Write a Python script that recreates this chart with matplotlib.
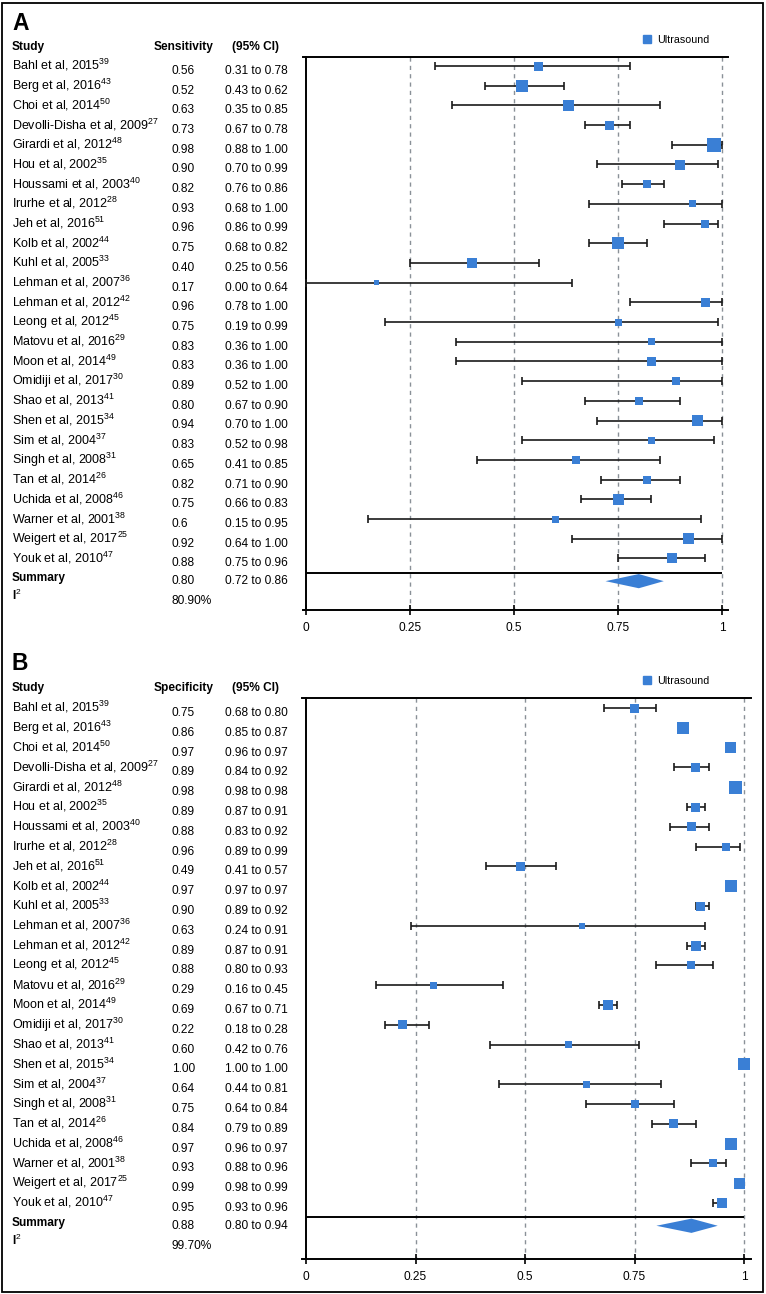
import matplotlib
matplotlib.use('Agg')
import matplotlib.pyplot as plt
from matplotlib.transforms import blended_transform_factory
from matplotlib.lines import Line2D
from matplotlib.patches import Rectangle

plt.rcParams['font.family'] = ['Liberation Sans', 'DejaVu Sans']
plt.rcParams['mathtext.fontset'] = 'custom'
plt.rcParams['mathtext.rm'] = 'Liberation Sans'
plt.rcParams['mathtext.bf'] = 'Liberation Sans:bold'
plt.rcParams['mathtext.default'] = 'regular'

# study names and reference numbers (same order in both panels)
studies = ['Bahl et al, 2015', 'Berg et al, 2016', 'Choi et al, 2014', 'Devolli-Disha et al, 2009',
           'Girardi et al, 2012', 'Hou et al, 2002', 'Houssami et al, 2003', 'Irurhe et al, 2012',
           'Jeh et al, 2016', 'Kolb et al, 2002', 'Kuhl et al, 2005', 'Lehman et al, 2007',
           'Lehman et al, 2012', 'Leong et al, 2012', 'Matovu et al, 2016', 'Moon et al, 2014',
           'Omidiji et al, 2017', 'Shao et al, 2013', 'Shen et al, 2015', 'Sim et al, 2004',
           'Singh et al, 2008', 'Tan et al, 2014', 'Uchida et al, 2008', 'Warner et al, 2001',
           'Weigert et al, 2017', 'Youk et al, 2010']
refs = [39, 43, 50, 27, 48, 35, 40, 28, 51, 44, 33, 36, 42, 45, 29, 49, 30, 41, 34, 37, 31, 26, 46, 38, 25, 47]

# panel A - sensitivity
sens = [0.56, 0.52, 0.63, 0.73, 0.98, 0.90, 0.82, 0.93, 0.96, 0.75, 0.40, 0.17, 0.96,
        0.75, 0.83, 0.83, 0.89, 0.80, 0.94, 0.83, 0.65, 0.82, 0.75, 0.60, 0.92, 0.88]
sens_lo = [0.31, 0.43, 0.35, 0.67, 0.88, 0.70, 0.76, 0.68, 0.86, 0.68, 0.25, 0.00, 0.78,
           0.19, 0.36, 0.36, 0.52, 0.67, 0.70, 0.52, 0.41, 0.71, 0.66, 0.15, 0.64, 0.75]
sens_hi = [0.78, 0.62, 0.85, 0.78, 1.00, 0.99, 0.86, 1.00, 0.99, 0.82, 0.56, 0.64, 1.00,
           0.99, 1.00, 1.00, 1.00, 0.90, 1.00, 0.98, 0.85, 0.90, 0.83, 0.95, 1.00, 0.96]
sens_summary = [0.80, 0.72, 0.86]
sens_i2 = '80.90%'

# panel B - specificity
spec = [0.75, 0.86, 0.97, 0.89, 0.98, 0.89, 0.88, 0.96, 0.49, 0.97, 0.90, 0.63, 0.89,
        0.88, 0.29, 0.69, 0.22, 0.60, 1.00, 0.64, 0.75, 0.84, 0.97, 0.93, 0.99, 0.95]
spec_lo = [0.68, 0.85, 0.96, 0.84, 0.98, 0.87, 0.83, 0.89, 0.41, 0.97, 0.89, 0.24, 0.87,
           0.80, 0.16, 0.67, 0.18, 0.42, 1.00, 0.44, 0.64, 0.79, 0.96, 0.88, 0.98, 0.93]
spec_hi = [0.80, 0.87, 0.97, 0.92, 0.98, 0.91, 0.92, 0.99, 0.57, 0.97, 0.92, 0.91, 0.91,
           0.93, 0.45, 0.71, 0.28, 0.76, 1.00, 0.81, 0.84, 0.89, 0.97, 0.96, 0.99, 0.96]
spec_summary = [0.88, 0.80, 0.94]
spec_i2 = '99.70%'

# box sizes (study weights), in pixels
box_a = [9, 12, 11, 9, 14, 10, 8.5, 7, 8, 12, 10, 5, 9, 7, 7, 9, 8, 8, 11, 7, 8, 8, 11, 7, 11, 10]
box_b = [9, 12, 11, 9, 13, 9, 9, 8, 9, 12, 9, 6, 10, 8, 7, 10, 9, 7, 12, 7, 8, 9, 12, 8, 11, 10]

xticks = [0, 0.25, 0.5, 0.75, 1]
xtick_labels = ['0', '0.25', '0.5', '0.75', '1']

BLUE = '#3a7fd5'
W, H = 766, 1294
FS = 8.6   # numbers / ticks
FS_NAME = 9.0  # study names

fig = plt.figure(figsize=(W / 100, H / 100), dpi=100)


def draw_panel(letter, header, vals, lo, hi, boxes, summary, i2, est_text,
               x0, x1, top, bottom, row0, step, pad_r, legend_y):
    pad_l = 0.008
    span = x1 - x0
    left_px = x0 - pad_l * span
    width_px = (1 + pad_l + pad_r) * span
    ax = fig.add_axes([left_px / W, 1 - bottom / H, width_px / W, (bottom - top) / H])
    ax.set_xlim(-pad_l, 1 + pad_r)
    ax.set_ylim((bottom - row0) / step, (top - row0) / step)
    ylo, yhi = ax.get_ylim()

    n = len(vals)
    rows = list(range(n))
    sep = n - 1 + 0.72
    srow = n + 0.15

    # reference lines
    ax.vlines(xticks[1:], yhi, ylo, colors='#8a9198', linestyles=(0, (3, 3)), lw=1.0, zorder=1)
    ax.hlines(sep, 0, 1, colors='black', lw=1.4, zorder=2)

    # error bars + boxes
    xerr = [[v - l for v, l in zip(vals, lo)], [h - v for v, h in zip(vals, hi)]]
    ax.errorbar(vals, rows, xerr=xerr, fmt='none', ecolor='#1a1a1a', elinewidth=1.2,
                capsize=2.6, capthick=1.2, zorder=3)
    ax.scatter(vals, rows, marker='s', s=[(b * 0.72) ** 2 for b in boxes], color=BLUE,
               linewidths=0, zorder=4)

    # summary diamond
    est, slo, shi = summary
    h = 0.36
    ax.fill([slo, est, shi, est], [srow, srow - h, srow, srow + h], color=BLUE, lw=0, zorder=4)

    # axes style
    ax.spines['right'].set_visible(False)
    ax.spines['left'].set_position(('data', 0))
    for s in ['left', 'top', 'bottom']:
        ax.spines[s].set_linewidth(1.4)
    ax.set_yticks([])
    ax.set_xticks(xticks)
    ax.set_xticklabels(xtick_labels)
    ax.tick_params(axis='x', direction='inout', length=7, width=1.2, pad=5, labelsize=FS)

    # text columns
    tr = blended_transform_factory(fig.transFigure, ax.transData)
    for i, (name, r) in enumerate(zip(studies, refs)):
        ax.text(12 / W, i + 0.2, f'{name}$^{{{r}}}$', transform=tr, fontsize=FS_NAME, va='baseline')
        ax.text(172 / W, i + 0.4, est_text[i], transform=tr, fontsize=FS, va='baseline')
        ax.text(225 / W, i + 0.4, f'{lo[i]:.2f} to {hi[i]:.2f}', transform=tr, fontsize=FS,
                va='baseline')
    hy = (top - 7 - row0) / step
    ax.text(12 / W, hy, 'Study', transform=tr, fontsize=FS, fontweight='bold', va='baseline')
    ax.text(154 / W, hy, header, transform=tr, fontsize=FS, fontweight='bold', va='baseline')
    ax.text(232 / W, hy, '(95% CI)', transform=tr, fontsize=FS, fontweight='bold', va='baseline')

    sy = sep + (8.5 / step)
    ax.text(12 / W, sy, 'Summary', transform=tr, fontsize=FS, fontweight='bold', va='baseline')
    ax.text(172 / W, sy + 0.15, f'{est:.2f}', transform=tr, fontsize=FS, va='baseline')
    ax.text(225 / W, sy + 0.15, f'{slo:.2f} to {shi:.2f}', transform=tr, fontsize=FS, va='baseline')
    iy = sy + 0.95
    ax.text(12 / W, iy, r'$\mathbf{I}^{2}$', transform=tr, fontsize=FS, va='baseline')
    ax.text(172 / W, iy + 0.2, i2, transform=tr, fontsize=FS, va='baseline')

    # panel letter
    fig.text(12 / W, 1 - (top - 34) / H, letter, fontsize=16.5, fontweight='bold', va='center')

    # legend
    handle = Line2D([], [], marker='s', ls='none', color=BLUE, ms=6)
    ax.legend([handle], ['Ultrasound'], loc='center left', bbox_to_anchor=(643 / W, 1 - legend_y / H),
              bbox_transform=fig.transFigure, frameon=False, fontsize=7.7, handlelength=0.8,
              handletextpad=0.5, borderpad=0, borderaxespad=0)
    return ax


est_a = [f'{v:.2f}' for v in sens]
est_a[studies.index('Warner et al, 2001')] = '0.6'
est_b = [f'{v:.2f}' for v in spec]

draw_panel('A', 'Sensitivity', sens, sens_lo, sens_hi, box_a, sens_summary, sens_i2, est_a,
           306, 722, 57, 610, 66, 19.7, 0.014, 40)
draw_panel('B', 'Specificity', spec, spec_lo, spec_hi, box_b, spec_summary, spec_i2, est_b,
           306, 744, 698, 1259, 708, 19.8, 0.016, 681)

# outer frame
fig.add_artist(Rectangle((2 / W, 2 / H), 761 / W, 1289 / H, transform=fig.transFigure,
                         fill=False, lw=1.3, ec='black'))

fig.savefig('out.png', dpi=100)
